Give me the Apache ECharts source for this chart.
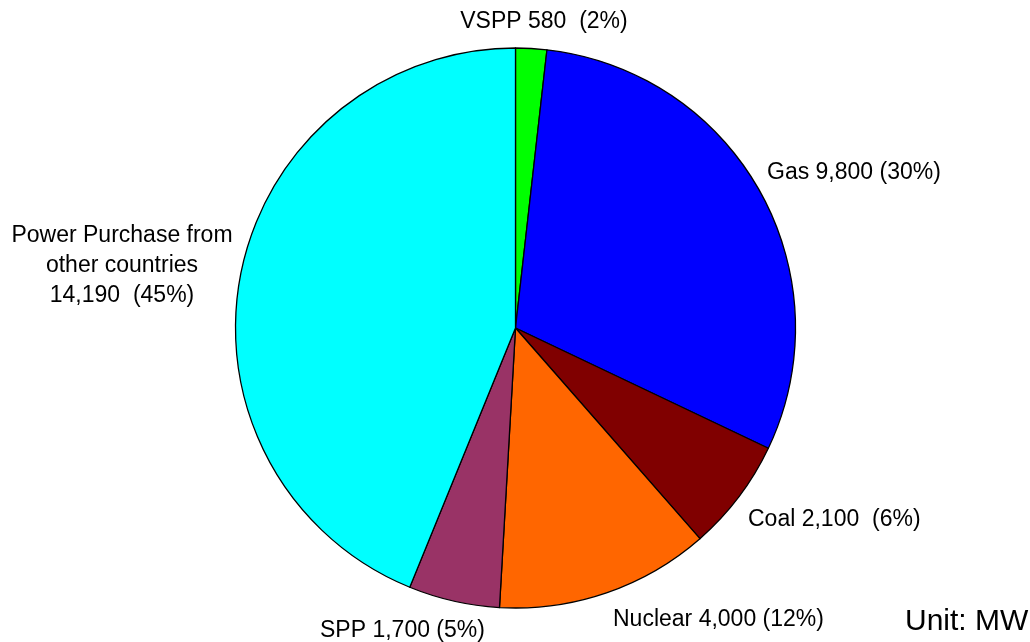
<!DOCTYPE html>
<html>
<head>
<meta charset="utf-8">
<style>html,body{margin:0;padding:0;background:#fff}#c{width:1030px;height:642px}</style>
<script src="https://cdn.jsdelivr.net/npm/echarts@6/dist/echarts.min.js"></script>
</head>
<body>
<div id="c"></div>
<script>
var names = ['VSPP', 'Gas', 'Coal', 'Nuclear', 'SPP', 'Power Purchase from\nother countries\n'];
var values = [580, 9800, 2100, 4000, 1700, 14190];
var valueText = ['580', '9,800', '2,100', '4,000', '1,700', '14,190'];
var pctText = ['  (2%)', ' (30%)', '  (6%)', ' (12%)', ' (5%)', '  (45%)'];
var colors = ['#00ff00', '#0000ff', '#800000', '#ff6600', '#993366', '#00ffff'];
var unitText = 'Unit: MW';

// label anchor positions (px) and alignment
var labelPos = [
  {x: 544, y: 22, align: 'center'},
  {x: 767, y: 173, align: 'left'},
  {x: 748, y: 520, align: 'left'},
  {x: 613, y: 620, align: 'left'},
  {x: 320, y: 631, align: 'left'},
  {x: 122, y: 266, align: 'center'}
];

var data = names.map(function (n, i) {
  return {name: n, value: values[i], itemStyle: {color: colors[i]}};
});

var chart = echarts.init(document.getElementById('c'), null, {renderer: 'canvas'});
chart.setOption({
  backgroundColor: '#ffffff',
  animation: false,
  series: [{
    type: 'pie',
    center: [515.5, 328],
    radius: [0, 280],
    startAngle: 90,
    clockwise: true,
    avoidLabelOverlap: false,
    data: data,
    itemStyle: {borderColor: '#000', borderWidth: 1.3},
    label: {
      show: true,
      position: 'outside',
      color: '#000',
      fontFamily: '"Liberation Sans", Arial, sans-serif',
      fontSize: 23,
      lineHeight: 30,
      formatter: function (p) {
        var i = p.dataIndex;
        var sep = (i === 5) ? '' : ' ';
        return names[i] + sep + valueText[i] + pctText[i];
      }
    },
    labelLine: {show: false},
    labelLayout: function (p) {
      var lp = labelPos[p.dataIndex];
      return {x: lp.x, y: lp.y, align: lp.align, verticalAlign: 'middle'};
    },
    emphasis: {disabled: true}
  }],
  graphic: [{
    type: 'text',
    left: 905,
    top: 607,
    style: {
      text: unitText,
      fill: '#000',
      font: '30px "Liberation Sans", Arial, sans-serif'
    }
  }]
});
</script>
</body>
</html>
